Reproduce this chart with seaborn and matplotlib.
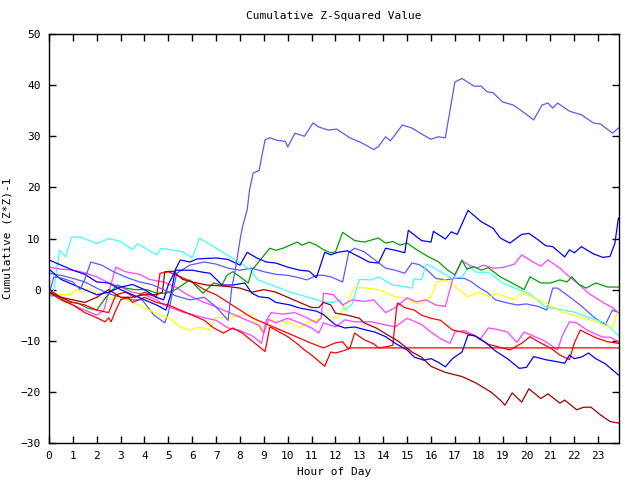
import matplotlib
matplotlib.use("Agg")
import matplotlib.pyplot as plt
import seaborn as sns
import pandas as pd

# ---- data (hour, cumulative value) ----
lb_big_h = [0, 0.2, 0.5, 1, 1.3, 1.5, 1.75, 2.2, 2.7, 3.3, 3.8, 4.3, 4.8, 5.3, 5.9, 6.5, 7.0, 7.5, 7.66, 7.8, 8.0, 8.1, 8.3, 8.4, 8.55, 8.8, 9.05, 9.25, 9.55, 9.9, 10.0, 10.3, 10.7, 11.06, 11.3, 11.7, 12.05, 12.6, 13.1, 13.6, 13.8, 14.1, 14.3, 14.8, 15.2, 15.7, 16.0, 16.3, 16.6, 17.0, 17.3, 17.8, 18.1, 18.35, 18.6, 19.0, 19.45, 19.9, 20.3, 20.65, 20.9, 21.1, 21.3, 21.8, 22.3, 22.8, 23.1, 23.6, 23.85]
lb_big_v = [-1, 2.5, 2.3, 1.5, 0, 2, 5.4, 4.8, 3.5, 2.3, 1.5, 1, 0, -1.2, -2, -1.5, -3.4, -6, 0.5, 3.8, 9.7, 12.2, 15.6, 19.5, 22.8, 23.3, 29.3, 29.7, 29.2, 29, 27.9, 30.6, 30.0, 32.6, 31.8, 31.2, 31.4, 29.7, 28.7, 27.4, 28, 29.9, 29.1, 32.2, 31.6, 30.2, 29.4, 29.9, 29.7, 40.6, 41.3, 39.8, 39.8, 38.7, 38.5, 36.7, 36.1, 34.6, 33.2, 36.1, 36.5, 35.5, 36.5, 34.9, 34.2, 32.6, 32.4, 30.6, 31.6]

lb2_h = [0, 0.5, 1, 1.5, 2, 2.5, 3, 3.5, 3.9, 4.4, 4.85, 5.0, 5.35, 5.9, 6.5, 7.0, 7.5, 8.0, 8.5, 9, 9.5, 10, 10.5, 10.8, 11.2, 11.5, 11.8, 12.3, 12.55, 12.8, 13.2, 13.6, 14.1, 14.5, 14.9, 15.2, 15.5, 15.8, 16.2, 16.6, 17.0, 17.4, 17.7, 18.05, 18.35, 18.7, 19.2, 19.6, 20.0, 20.5, 20.85, 21.1, 21.3, 21.8, 22.3, 22.8, 23.3, 23.6, 23.85]
lb2_v = [3.2, 2.8, 2.2, 1.5, 0.3, -0.8, -1.5, -2, -2, -5, -6.5, -4.5, 3.2, 4.8, 5.4, 5, 4.2, 3.8, 4.2, 3.5, 3, 2.8, 2.3, 1.9, 2.8, 2.8, 2.5, 1.5, 7.2, 8.1, 7.4, 6, 4.2, 3.8, 3.2, 5.2, 4.9, 4, 2.2, 1.9, 2.2, 2.2, 1.5, 0.3, -0.5, -2, -2.6, -3, -2.8, -3.3, -4, 0.3, 0.3, -1.4, -3.2, -5.3, -6.9, -4, -4.5]

blue_up_h = [0, 0.5, 1, 1.5, 2, 2.5, 3, 3.5, 4, 4.5, 4.9, 5.1, 5.3, 5.5, 5.9, 6.2, 7.0, 7.5, 8.0, 8.3, 8.7, 9.1, 9.5, 10, 10.5, 10.9, 11.2, 11.55, 11.8, 12.1, 12.5, 13, 13.4, 13.8, 14.1, 14.6, 14.9, 15.05, 15.6, 16.0, 16.1, 16.6, 16.85, 17.1, 17.55, 18.1, 18.6, 18.9, 19.3, 19.8, 20.1, 20.5, 20.8, 21.1, 21.6, 21.8, 22.0, 22.3, 22.8, 23.2, 23.5, 23.7, 23.85]
blue_up_v = [5.8, 4.8, 3.8, 3.0, 1.5, 1.3, 0, -1, -2, -3, -4, -1, 4, 5.8, 5.4, 6.0, 6.2, 5.9, 4.8, 7.3, 6.2, 5.4, 5.2, 4.4, 3.8, 3.6, 2.3, 7.3, 6.8, 7.3, 7.6, 6.4, 5.4, 5.2, 8.1, 7.6, 7.2, 11.6, 9.6, 9.3, 11.4, 9.9, 11.3, 10.8, 15.5, 13.3, 12, 10.1, 9.1, 10.8, 11, 9.7, 8.6, 8.4, 6.4, 7.8, 7.2, 8.4, 7.0, 6.3, 6.5, 9, 14]

blue_lo_h = [0, 0.5, 1, 1.5, 2, 2.5, 3, 3.5, 4, 4.5, 4.8, 5.0, 5.3, 6.0, 6.45, 6.75, 7.25, 7.7, 8.2, 8.5, 8.8, 9.2, 9.5, 10.1, 10.5, 11.2, 11.5, 12, 12.4, 12.8, 13.2, 13.65, 14.1, 14.5, 15.0, 15.3, 15.7, 16.0, 16.3, 16.6, 16.9, 17.3, 17.55, 17.8, 18.3, 18.7, 19.2, 19.7, 20.0, 20.3, 20.8, 21.4, 21.6, 21.8, 22.0, 22.3, 22.6, 22.9, 23.3, 23.85]
blue_lo_v = [4, 2, 1, 0, -1, -0.5, 0.5, 1, 0, -1.5, -2, 1, 3.8, 3.8, 3.4, 3.2, 0.9, 0.9, 1.3, -0.7, -1.4, -1.6, -2.5, -3, -3.6, -4.2, -4.9, -6.9, -7.5, -7.3, -7.8, -8.3, -9.2, -10.5, -11.8, -13.2, -13.8, -13.5, -14.2, -15.1, -13.5, -12.2, -8.9, -8.9, -10.4, -12, -13.5, -15.4, -15.2, -13.1, -13.7, -14.2, -14.4, -12.8, -13.5, -13.2, -12.4, -13.5, -14.5, -16.7]

green_h = [0, 0.2, 0.7, 1.2, 1.6, 2, 2.4, 2.85, 3.2, 3.6, 4.1, 4.5, 4.9, 5.3, 5.9, 6.45, 6.9, 7.25, 7.45, 7.7, 8.0, 8.35, 8.5, 8.85, 9.25, 9.5, 9.8, 10.1, 10.4, 10.6, 10.9, 11.2, 11.5, 11.8, 12.0, 12.3, 12.8, 13.2, 13.8, 14.1, 14.4, 14.7, 15.0, 15.4, 15.9, 16.3, 16.7, 17.0, 17.3, 17.5, 17.8, 18.1, 18.4, 18.9, 19.4, 19.9, 20.15, 20.6, 21.0, 21.4, 21.7, 21.9, 22.2, 22.5, 22.9, 23.4, 23.85]
green_v = [-0.5, -0.7, -2.4, -2.6, -3.6, -4, -1.4, 0.9, 0.3, 0, 0, -0.7, -0.7, 0, 1.9, -0.7, 1.3, 0.9, 2.8, 3.5, 2.5, 1.3, 3.8, 5.8, 8.1, 7.7, 8.1, 8.7, 9.3, 8.7, 9.3, 8.7, 7.8, 7.2, 7.4, 11.2, 9.6, 9.3, 10.1, 9.1, 9.4, 8.7, 9.1, 7.8, 6.4, 5.5, 3.8, 2.9, 5.8, 4, 4.5, 3.8, 4.3, 2.5, 1.3, 0, 2.5, 1.3, 1.3, 1.9, 1.5, 2.5, 1, 0.3, 1.3, 0.5, 0.5]

cyan_h = [0, 0.15, 0.3, 0.45, 0.7, 0.95, 1.3, 2.0, 2.5, 3.0, 3.5, 3.7, 4.5, 4.7, 5.6, 6.0, 6.3, 7.0, 7.6, 8.0, 8.4, 8.75, 9.55, 10.1, 10.8, 11.5, 11.9, 12.2, 12.4, 12.7, 13.0, 13.5, 13.8, 14.4, 15.0, 15.2, 15.3, 15.6, 15.8, 16.0, 16.5, 16.9, 17.3, 17.6, 17.9, 18.4, 19.0, 19.5, 20.1, 20.8, 22.0, 22.7, 23.3, 23.85]
cyan_v = [-1, -1.5, 3, 7.7, 6.4, 10.3, 10.3, 9, 10, 9.4, 7.8, 9, 6.8, 8.1, 7.4, 6.2, 10.1, 8.1, 6.4, 5.2, 4, 1.9, 0.5, -0.5, -1.4, -2.4, -2.5, -2, -4, -2.8, 2.0, 1.9, 2.5, 0.9, 0.5, 0.3, 2.2, 1.9, 5.0, 4.6, 3.2, 2.2, 2.5, 4.5, 3.4, 3.4, 1.3, 0.3, -0.7, -3.4, -4.4, -5.6, -6.5, -9]

mag_a_h = [0, 0.5, 1, 1.5, 2, 2.5, 3, 3.5, 4, 4.5, 4.8, 5.6, 6.5, 7, 7.5, 8, 8.5, 8.9, 9.1, 9.3, 9.8, 10.3, 10.8, 11.2, 11.4, 11.5, 11.9, 12.3, 12.7, 13.2, 13.6, 14.1, 14.5, 15.0, 15.4, 15.8, 16.2, 16.6, 16.9, 17.3, 17.6, 17.9, 18.2, 18.6, 19.0, 19.5, 19.8, 20.2, 20.6, 20.9, 21.4, 21.8, 22.2, 22.6, 23.2, 23.6, 23.85]
mag_a_v = [4.4, 4.0, 3.8, 3.3, 2.5, 1.3, 0.5, -0.5, -1, -2, -3, -4.4, -5.5, -6, -7.5, -8, -9, -10.5, -6, -4.5, -4.8, -4.5, -5.5, -6.5, -5.5, -0.7, -1, -3, -2, -2.3, -2, -4.5, -3.5, -1.6, -2.4, -2.0, -3.0, -3.3, 1.9, 5.6, 4.8, 4.2, 4.8, 4.2, 4.3, 5.0, 6.8, 5.6, 4.6, 5.8, 4.2, 2.5, 1, -0.7, -2.5, -3.5, -4.5]

mag_b_h = [0, 0.5, 1, 1.5, 2, 2.3, 2.8, 3.2, 3.8, 4.2, 4.8, 5.3, 5.8, 6.4, 6.8, 7.3, 7.8, 8.3, 8.8, 9.0, 9.2, 9.5, 10, 10.5, 11, 11.3, 11.5, 12, 12.4, 12.8, 13.5, 14.0, 14.5, 15.0, 15.6, 16.0, 16.4, 16.8, 17.0, 17.4, 17.9, 18.05, 18.4, 18.8, 19.2, 19.6, 19.9, 20.4, 20.7, 21.0, 21.3, 21.5, 21.8, 22.1, 22.5, 22.8, 23.2, 23.5, 23.85]
mag_b_v = [-1, -1.5, -3, -4, -5, -4, 4.4, 3.5, 3, 2.0, 1.5, 0.5, -1, -2.3, -3, -4, -5, -6, -7, -8.5, -5.8, -6.5, -5.6, -6.5, -7.5, -8.5, -6.5, -7.3, -5.9, -6.3, -6.3, -6.8, -7.3, -5.6, -6.8, -8.3, -9.6, -10.5, -8.3, -8.0, -9.2, -9.8, -7.5, -7.8, -8.3, -10.3, -8.3, -9.3, -9.9, -10.8, -11.8, -9, -6.3, -6.5, -7.8, -8.5, -9.3, -9.3, -10.2]

yellow_h = [0, 0.5, 0.9, 1.15, 1.4, 1.7, 2.1, 2.5, 3, 3.5, 4.2, 4.7, 5.05, 5.5, 5.9, 6.3, 6.7, 7.0, 7.5, 8.0, 8.5, 8.85, 9.2, 9.6, 10.1, 10.5, 10.9, 11.4, 11.45, 11.8, 12.1, 12.4, 12.8, 13.3, 13.8, 14.5, 14.9, 15.3, 15.6, 16.0, 16.25, 16.6, 17.1, 17.55, 18.0, 18.5, 18.7, 19.5, 19.8, 20.2, 20.8, 21.5, 22.2, 22.9, 23.6, 23.8]
yellow_v = [-0.5, -1, -1, 0, -0.5, 0.3, -1.4, -2, -1.5, -2.5, -4, -5, -5.6, -7.3, -7.9, -7.3, -7.9, -5.4, -5.6, -5, -5, -7.9, -6.2, -6.2, -6.4, -7.5, -6.2, -5.8, -4.5, -5.5, -5.5, -3.3, 0.5, 0.3, 0, -1.4, -1.6, -2.6, -2.8, -1.4, 1.5, 1.9, 0.3, -1.4, -0.5, -1.4, -0.7, -2, -0.5, -1.4, -2.6, -4.4, -5.3, -6.3, -7.5, -4.4]

red2_h = [0, 0.5, 1, 1.5, 2, 2.35, 2.5, 2.6, 2.8, 3.0, 3.3, 3.5, 4, 4.5, 5, 5.5, 6, 6.5, 6.9, 7.3, 7.7, 8.1, 8.55, 9.05, 9.25, 9.5, 10, 10.4, 10.7, 11.0, 11.55, 11.8, 12.0, 12.3, 12.6, 12.8, 13.2, 13.6, 13.8, 14.1, 14.4, 14.55, 14.6, 14.9, 15.3, 15.6, 16, 16.4, 16.9, 17.3, 17.9, 18.4, 19.0, 19.3, 19.8, 20.15, 20.5, 21.0, 21.4, 21.8, 22.0, 22.25, 22.5, 22.9, 23.4, 23.85]
red2_v = [-0.5, -2, -3, -4.5, -5.5, -6.3, -5.5, -6.3, -4, -2, -1.5, -2.5, -1.5, -2.5, -3, -4, -5, -6, -7.5, -8.5, -7.5, -8.5, -10.2, -12.1, -7.3, -7.9, -9.2, -10.6, -11.8, -12.8, -15, -12.2, -12.4, -12, -11.5, -8.5, -9.8, -10.6, -11.4, -11.2, -10.9, -4, -2.6, -3.5, -4, -5, -5.6, -6, -7.9, -8.3, -9.2, -10.7, -11.4, -11.8, -10.5, -9.2, -10.2, -11.4, -12.8, -13.7, -10.5, -7.9, -8.5, -9.4, -10.2, -10.5]

red_flat_h = [0, 0.5, 1, 1.5, 2, 2.5, 2.8, 3.2, 3.6, 4.0, 4.5, 4.65, 5.0, 5.5, 6.0, 6.5, 7, 7.5, 8, 8.5, 9, 9.5, 10, 10.5, 11, 11.5, 12.0, 12.3, 12.5, 23.85]
red_flat_v = [0, -1.5, -2.5, -3, -4, -4.5, -1, -0.5, -1.5, -0.5, -1.5, 3.2, 3.5, 2.5, 1.5, 0, -1, -2.5, -4, -5.5, -6.5, -7.5, -8.5, -9.5, -10.5, -11.4, -10.4, -10.2, -11.4, -11.4]

dred_h = [0, 0.5, 1, 1.5, 2, 2.5, 3, 3.5, 4, 4.5, 4.75, 4.85, 5.2, 5.6, 6, 6.6, 7.0, 7.5, 8.0, 8.5, 9.0, 9.5, 10.0, 10.5, 11.0, 11.3, 11.5, 11.8, 12, 12.5, 13, 13.2, 13.7, 14.2, 14.6, 15.2, 15.6, 16.0, 16.6, 17.3, 17.9, 18.5, 18.9, 19.1, 19.4, 19.8, 20.1, 20.6, 20.9, 21.4, 21.6, 22.1, 22.4, 22.7, 23.1, 23.5, 23.85]
dred_v = [-0.5, -1.5, -2, -2.5, -1.5, 0, -1.5, -1.5, -1, -1, -0.5, 3.5, 3.6, 2, 1.5, 0.9, 0.8, 0.6, 0.3, -0.5, 0, -0.5, -1.5, -2.5, -3.5, -3.5, -2.5, -3, -4.6, -5, -5.6, -6.5, -7.5, -8.9, -10, -12.2, -13.2, -15, -16.2, -17, -18.3, -20, -21.6, -22.6, -20.2, -22, -19.4, -21.3, -20.4, -22.2, -21.6, -23.5, -23, -23, -24.5, -25.8, -26.1]

series = [
    ("s_lb2", lb2_h, lb2_v, "#5a5aff"),
    ("s_cyan", cyan_h, cyan_v, "#40ffff"),
    ("s_yellow", yellow_h, yellow_v, "#ffff00"),
    ("s_mag_b", mag_b_h, mag_b_v, "#ff40ff"),
    ("s_mag_a", mag_a_h, mag_a_v, "#ff40ff"),
    ("s_green", green_h, green_v, "#00a000"),
    ("s_red_flat", red_flat_h, red_flat_v, "#ff0000"),
    ("s_red2", red2_h, red2_v, "#ff0000"),
    ("s_dred", dred_h, dred_v, "#a00000"),
    ("s_blue_lo", blue_lo_h, blue_lo_v, "#0000ff"),
    ("s_blue_up", blue_up_h, blue_up_v, "#0000ff"),
    ("s_lb_big", lb_big_h, lb_big_v, "#5a5aff"),
]

rows = []
for name, hs, vs, _ in series:
    for h, v in zip(hs, vs):
        rows.append({"series": name, "hour": h, "value": v})
df = pd.DataFrame(rows)
palette = {name: col for name, _, _, col in series}

plt.rcParams["font.family"] = ["DejaVu Sans Mono"]
fig = plt.figure(figsize=(6.4, 4.8), dpi=100)
ax = fig.add_axes([49 / 640, 1 - 443 / 480, (619 - 49) / 640, (443 - 34) / 480])

sns.lineplot(data=df, x="hour", y="value", hue="series", palette=palette,
             hue_order=[s[0] for s in series], estimator=None, sort=False,
             legend=False, linewidth=0.9, ax=ax)

ax.set_xlim(0, 23.875)
ax.set_ylim(-30, 50)
ax.set_xticks(range(0, 24))
ax.set_yticks(range(-30, 51, 10))
ax.tick_params(direction="in", length=5, width=1, top=True, right=True,
               labelsize=8, colors="black", pad=6)
for sp in ax.spines.values():
    sp.set_linewidth(1.0)
    sp.set_color("black")
ax.set_xlabel("Hour of Day", fontsize=8, labelpad=4)
ax.set_ylabel("Cumulative (Z*Z)-1", fontsize=8, labelpad=6)
ax.set_title("Cumulative Z-Squared Value", fontsize=8, pad=11)
ax.grid(False)
ax.set_facecolor("white")

fig.savefig("out.png", dpi=100)
